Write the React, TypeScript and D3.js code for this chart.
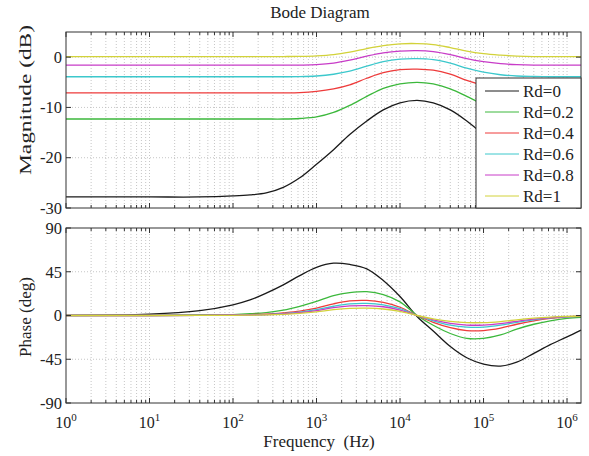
import { useRef, useEffect } from 'react';
import * as d3 from 'd3';

const W = 589;
const H = 456;
const X0 = 66;
const X1 = 581;
const MAG_BOX = { top: 32, bottom: 208 };
const PH_BOX = { top: 228, bottom: 403 };

// sample frequencies (Hz)
const freqs = [1, 10, 40, 100, 160, 250, 400, 630, 1000, 1600, 2500, 4000, 6300,
  10000, 16000, 25000, 40000, 63000, 100000, 160000, 250000, 400000, 630000, 1000000, 1470000];

const labels = ['Rd=0', 'Rd=0.2', 'Rd=0.4', 'Rd=0.6', 'Rd=0.8', 'Rd=1'];
const colors = ['#1a1a1a', '#3cb83c', '#ee3b3b', '#3cc8cc', '#c83cc8', '#d2d23a'];

// magnitude (dB)
const magRd0 = [-27.8, -27.8, -27.8, -27.6, -27.4, -27.0, -25.9, -24.0, -21.3, -18.4, -15.4, -12.7, -10.5,
  -9.1, -8.6, -9.1, -10.5, -12.7, -15.4, -18.3, -21.0, -23.3, -25.0, -26.2, -26.9];
const magRd02 = [-12.3, -12.3, -12.3, -12.3, -12.3, -12.3, -12.3, -12.2, -11.9, -11.0, -9.6, -7.8, -6.2,
  -5.3, -5.0, -5.3, -6.3, -7.8, -9.4, -10.7, -11.6, -12.0, -12.2, -12.3, -12.3];
const magRd04 = [-7.1, -7.1, -7.1, -7.1, -7.1, -7.1, -7.1, -7.05, -6.8, -6.3, -5.5, -4.2, -3.1,
  -2.5, -2.4, -2.6, -3.4, -4.6, -5.6, -6.4, -6.8, -7.0, -7.1, -7.1, -7.1];
const magRd06 = [-3.9, -3.9, -3.9, -3.9, -3.9, -3.9, -3.9, -3.88, -3.75, -3.4, -2.8, -1.8, -0.9,
  -0.4, -0.3, -0.5, -1.2, -2.2, -3.0, -3.5, -3.75, -3.85, -3.9, -3.9, -3.9];
const magRd08 = [-1.6, -1.6, -1.6, -1.6, -1.6, -1.6, -1.6, -1.58, -1.5, -1.2, -0.6, 0.2, 0.85,
  1.2, 1.3, 1.1, 0.5, -0.3, -0.9, -1.3, -1.5, -1.6, -1.6, -1.6, -1.6];
const magRd1 = [0.1, 0.1, 0.1, 0.1, 0.1, 0.1, 0.12, 0.15, 0.25, 0.5, 1.0, 1.7, 2.3,
  2.65, 2.7, 2.5, 1.9, 1.2, 0.7, 0.4, 0.2, 0.1, 0.1, 0.1, 0.1];

// phase (deg)
const phRd0 = [0.1, 1.3, 5, 11, 16, 23, 31.5, 41, 49.5, 53.8, 52.5, 48, 36,
  19.5, -1, -16, -32, -43.5, -50, -52, -48, -39, -30, -22, -15];
const phRd02 = [0, 0.2, 0.5, 1, 1.8, 3, 5.5, 9.5, 14.5, 20.5, 23.5, 24.5, 21.5,
  14, 0, -10, -18.5, -23.5, -23.5, -20, -14, -9, -5.5, -3, -2];
const phRd04 = [0, 0, 0.2, 0.6, 1, 1.5, 2.8, 4.5, 7.5, 12, 15, 15.5, 13.5,
  8.5, 0, -7, -12.5, -15.5, -15.5, -13, -9, -5.5, -3, -1.5, -1];
const phRd06 = [0, 0, 0.1, 0.4, 0.7, 1, 2, 3.5, 6, 9.5, 12, 12.5, 11,
  7, 0, -5.5, -10, -12, -12, -10, -7, -4.5, -2.5, -1.3, -0.8];
const phRd08 = [0, 0, 0.1, 0.3, 0.5, 0.8, 1.6, 3, 5, 8, 9.8, 10.2, 9,
  5.5, 0, -4.5, -8, -9.8, -9.8, -8.3, -6, -3.8, -2.2, -1.1, -0.7];
const phRd1 = [0, 0, 0.1, 0.2, 0.4, 0.6, 1.2, 2.2, 3.8, 6, 7.3, 7.6, 6.7,
  4.2, 0, -3.4, -6, -7.3, -7.3, -6.2, -4.5, -2.8, -1.6, -0.8, -0.5];

const magSeries = [magRd0, magRd02, magRd04, magRd06, magRd08, magRd1];
const phSeries = [phRd0, phRd02, phRd04, phRd06, phRd08, phRd1];

const magTicks = [0, -10, -20, -30];
const phTicks = [90, 45, 0, -45, -90];
const decades = [0, 1, 2, 3, 4, 5, 6];

const FONT = '"Liberation Serif", "Times New Roman", serif';

export default function App() {
  const svgRef = useRef<SVGSVGElement>(null);

  useEffect(() => {
    const svg = d3.select(svgRef.current);
    svg.selectAll('*').remove();

    const x = d3.scaleLog().domain([1, 1470000]).range([X0, X1]);

    // every 1..9 x 10^k inside domain
    const minor: number[] = [];
    decades.forEach(k => {
      for (let m = 1; m <= 9; m++) {
        const f = m * Math.pow(10, k);
        if (f <= 1470000) minor.push(f);
      }
    });

    const drawPanel = (box, domain, ticks, series, showX) => {
      const y = d3.scaleLinear().domain(domain).range([box.bottom, box.top]);
      const g = svg.append('g');

      // grid
      g.selectAll('.vg').data(minor.filter(f => f > 1)).join('line')
        .attr('x1', d => x(d)).attr('x2', d => x(d))
        .attr('y1', box.top).attr('y2', box.bottom)
        .attr('stroke', '#b8b8b8').attr('stroke-width', 0.8)
        .attr('stroke-dasharray', '1 2');
      g.selectAll('.hg').data(ticks.filter(t => t !== domain[0] && t !== domain[1])).join('line')
        .attr('x1', X0).attr('x2', X1)
        .attr('y1', d => y(d)).attr('y2', d => y(d))
        .attr('stroke', '#b8b8b8').attr('stroke-width', 0.8)
        .attr('stroke-dasharray', '1 2');

      // curves
      const line = d3.line<number>()
        .x((_, i) => x(freqs[i]))
        .y(d => y(d))
        .curve(d3.curveCatmullRom.alpha(0.5));
      series.forEach((s, i) => {
        g.append('path').attr('d', line(s)).attr('fill', 'none')
          .attr('stroke', colors[i]).attr('stroke-width', 1.3);
      });

      // ticks inside box
      minor.forEach(f => {
        const major = Math.abs(Math.log10(f) - Math.round(Math.log10(f))) < 1e-9;
        const len = major ? 5 : 3;
        g.append('line').attr('x1', x(f)).attr('x2', x(f))
          .attr('y1', box.bottom).attr('y2', box.bottom - len).attr('stroke', '#333');
        g.append('line').attr('x1', x(f)).attr('x2', x(f))
          .attr('y1', box.top).attr('y2', box.top + len).attr('stroke', '#333');
      });
      ticks.forEach(t => {
        g.append('line').attr('x1', X0).attr('x2', X0 + 5)
          .attr('y1', y(t)).attr('y2', y(t)).attr('stroke', '#333');
        g.append('line').attr('x1', X1).attr('x2', X1 - 5)
          .attr('y1', y(t)).attr('y2', y(t)).attr('stroke', '#333');
        g.append('text').attr('x', 62).attr('y', y(t)).attr('dy', '0.35em')
          .attr('text-anchor', 'end').attr('font-family', FONT)
          .attr('font-size', 16.5).attr('fill', '#222').text(t);
      });

      g.append('rect').attr('x', X0).attr('y', box.top)
        .attr('width', X1 - X0).attr('height', box.bottom - box.top)
        .attr('fill', 'none').attr('stroke', '#333').attr('stroke-width', 1);

      if (showX) {
        decades.forEach(k => {
          const t = g.append('text').attr('x', x(Math.pow(10, k))).attr('y', 428)
            .attr('text-anchor', 'middle').attr('font-family', FONT).attr('fill', '#222');
          t.append('tspan').attr('font-size', 16).text('10');
          t.append('tspan').attr('font-size', 11).attr('dy', -7).text(String(k));
        });
      }
    };

    drawPanel(MAG_BOX, [-30, 5], magTicks, magSeries, false);
    drawPanel(PH_BOX, [-90, 90], phTicks, phSeries, true);

    // legend
    const lg = svg.append('g');
    lg.append('rect').attr('x', 476).attr('y', 78).attr('width', 105).attr('height', 130)
      .attr('fill', '#fff').attr('stroke', '#333');
    labels.forEach((l, i) => {
      const yy = 91 + i * 21;
      lg.append('line').attr('x1', 485).attr('x2', 519).attr('y1', yy).attr('y2', yy)
        .attr('stroke', colors[i]).attr('stroke-width', 1);
      lg.append('text').attr('x', 523).attr('y', yy + 6).attr('font-family', FONT)
        .attr('font-size', 17).attr('fill', '#222').text(l);
    });

    // titles
    svg.append('text').attr('x', 320).attr('y', 18).attr('text-anchor', 'middle')
      .attr('font-family', FONT).attr('font-size', 17).attr('fill', '#222').text('Bode Diagram');
    svg.append('text').attr('x', 319).attr('y', 447).attr('text-anchor', 'middle')
      .attr('font-family', FONT).attr('font-size', 17).attr('fill', '#222')
      .style('white-space', 'pre').text('Frequency  (Hz)');
    svg.append('text').attr('transform', 'translate(31,100) rotate(-90)')
      .attr('text-anchor', 'middle').attr('font-family', FONT).attr('font-size', 16)
      .attr('textLength', 150).attr('lengthAdjust', 'spacingAndGlyphs')
      .attr('fill', '#222').text('Magnitude (dB)');
    svg.append('text').attr('transform', 'translate(31,317) rotate(-90)')
      .attr('text-anchor', 'middle').attr('font-family', FONT).attr('font-size', 17)
      .attr('fill', '#222').text('Phase (deg)');
  }, []);

  return (
    <svg ref={svgRef} width={W} height={H}
      style={{ position: 'absolute', left: 0, top: 0, background: '#fff' }} />
  );
}
